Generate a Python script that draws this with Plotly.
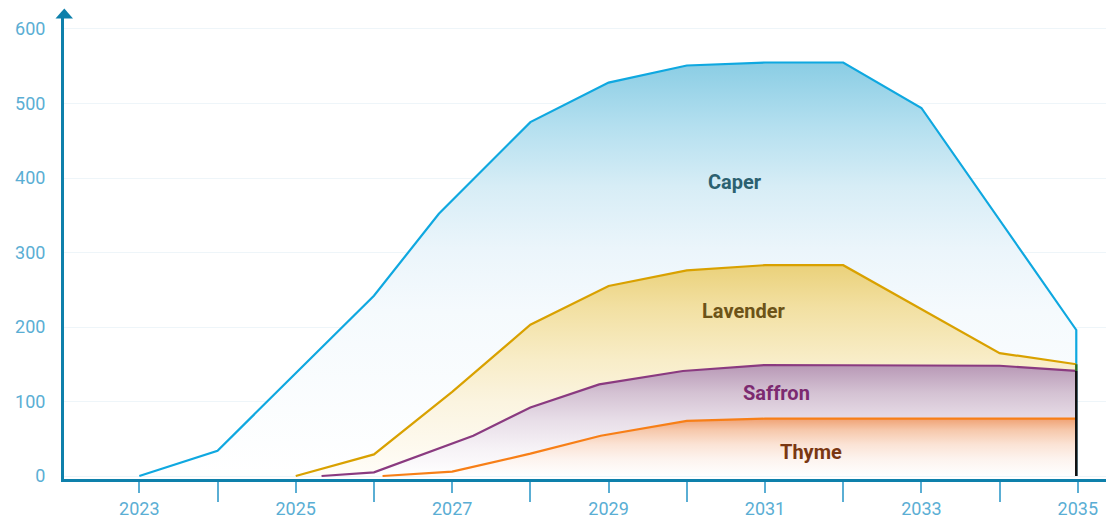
import plotly.graph_objects as go

# ---- data ----
caper_x = [2023, 2024, 2026, 2026.83, 2028, 2029, 2030, 2031, 2032, 2033, 2034.98]
caper_y = [0, 34, 242, 352, 475, 528, 551, 555, 555, 494, 196]

lavender_x = [2025, 2026, 2027, 2028, 2029, 2030, 2031, 2032, 2034, 2034.98]
lavender_y = [0, 29, 113, 203, 255, 276, 283, 283, 165, 150]

saffron_x = [2025.33, 2026, 2027.27, 2028, 2028.88, 2029.95, 2031, 2034, 2034.98]
saffron_y = [0, 5, 54, 92, 123, 141, 149, 148, 141]

thyme_x = [2026.11, 2027, 2028, 2028.9, 2030, 2031, 2034.98]
thyme_y = [0, 6, 30, 54, 74, 77, 77]

y_ticks = [0, 100, 200, 300, 400, 500, 600]
x_label_years = [2023, 2025, 2027, 2029, 2031, 2033, 2035]
x_minor_years = [2024, 2026, 2028, 2030, 2032, 2034]

series = [
    dict(name="Caper", x=caper_x, y=caper_y, line="#0fa8e0", txt="#2c6170",
         scale=[[0, "#ffffff"], [0.4, "#f5fafd"], [0.55, "#ebf5fb"], [0.7, "#d7edf6"],
                [0.85, "#b3dfef"], [1, "#8acde4"]],
         lab=(2030.62, 395)),
    dict(name="Lavender", x=lavender_x, y=lavender_y, line="#d9a100", txt="#6c5318",
         scale=[[0, "#fffdf8"], [0.35, "#fbf4e0"], [0.55, "#f8edc8"], [0.8, "#f2e0a2"],
                [1, "#ead17a"]],
         lab=(2030.72, 221.5)),
    dict(name="Saffron", x=saffron_x, y=saffron_y, line="#8a3a80", txt="#7c2a70",
         scale=[[0, "#ffffff"], [0.25, "#f6f2f6"], [0.5, "#e8dee8"], [0.75, "#d4c2d3"],
                [1, "#b898b6"]],
         lab=(2031.15, 111.4)),
    dict(name="Thyme", x=thyme_x, y=thyme_y, line="#f77f17", txt="#7a3712",
         scale=[[0, "#ffffff"], [0.3, "#fdf3ee"], [0.55, "#fbe3d5"], [0.8, "#f6c8ab"],
                [1, "#f0a274"]],
         lab=(2031.59, 32.2)),
]

fig = go.Figure()

for i, s in enumerate(series):
    xs = list(s["x"])
    ys = list(s["y"])
    if i == 0:
        # caper outline drops vertically to the baseline at its last point
        xs = xs + [xs[-1]]
        ys = ys + [0]
    fig.add_trace(go.Scatter(
        x=xs, y=ys, mode="lines", name=s["name"],
        line=dict(color=s["line"], width=2.2),
        fill="tozeroy",
        fillgradient=dict(type="vertical", colorscale=s["scale"],
                          start=0, stop=max(s["y"])),
        showlegend=False, hoverinfo="skip",
    ))

# closing vertical segments at the right end
end_x = caper_x[-1]
fig.add_trace(go.Scatter(x=[end_x, end_x], y=[saffron_y[-1], lavender_y[-1]], mode="lines",
                         line=dict(color="#2c6b1e", width=2.4), showlegend=False, hoverinfo="skip"))
fig.add_trace(go.Scatter(x=[end_x, end_x], y=[0, saffron_y[-1]], mode="lines",
                         line=dict(color="#111111", width=2.6), showlegend=False, hoverinfo="skip"))

for s in series:
    fig.add_annotation(x=s["lab"][0], y=s["lab"][1], text=s["name"], showarrow=False,
                       font=dict(family="Roboto", size=20, color=s["txt"], weight="bold"))

axis_col = "#0e80ab"
tick_col = "#5aaed4"

# arrow head on top of the y axis
W, H = 1042.0, 467.0
def px(xp, yp):
    return (xp - 64) / W, (479 - yp) / H
p1 = px(64.3, 8.5); p2 = px(55.5, 18.5); p3 = px(73, 18.5)
fig.add_shape(type="path", xref="paper", yref="paper",
              path=f"M {p1[0]} {p1[1]} L {p2[0]} {p2[1]} L {p3[0]} {p3[1]} Z",
              fillcolor=axis_col, line=dict(width=0), layer="above")

fig.update_layout(
    width=1106, height=516,
    margin=dict(l=64, r=0, t=12, b=37, autoexpand=False),
    paper_bgcolor="white", plot_bgcolor="white",
    font=dict(family="Roboto", size=18, color=tick_col),
    xaxis=dict(
        range=[2022.037, 2035.36], automargin=False,
        tickmode="array", tickvals=x_label_years, ticktext=[str(v) for v in x_label_years],
        ticks="outside", ticklen=11, tickwidth=1.5, tickcolor=tick_col,
        minor=dict(tickmode="array", tickvals=x_minor_years, ticks="outside",
                   ticklen=20, tickwidth=1.5, tickcolor=tick_col, showgrid=False),
        showline=True, linecolor=axis_col, linewidth=3,
        showgrid=False, zeroline=False,
        tickfont=dict(family="Roboto", size=18, color=tick_col),
    ),
    yaxis=dict(
        range=[-4, 622.8], automargin=False,
        tickmode="array", tickvals=y_ticks, ticktext=[str(v) for v in y_ticks],
        ticks="", ticklabelstandoff=12,
        showline=True, linecolor=axis_col, linewidth=3,
        showgrid=True, gridcolor="#eef5f9", gridwidth=1,
        zeroline=False,
        tickfont=dict(family="Roboto", size=18, color=tick_col),
    ),
)

fig.write_html("out.html")
